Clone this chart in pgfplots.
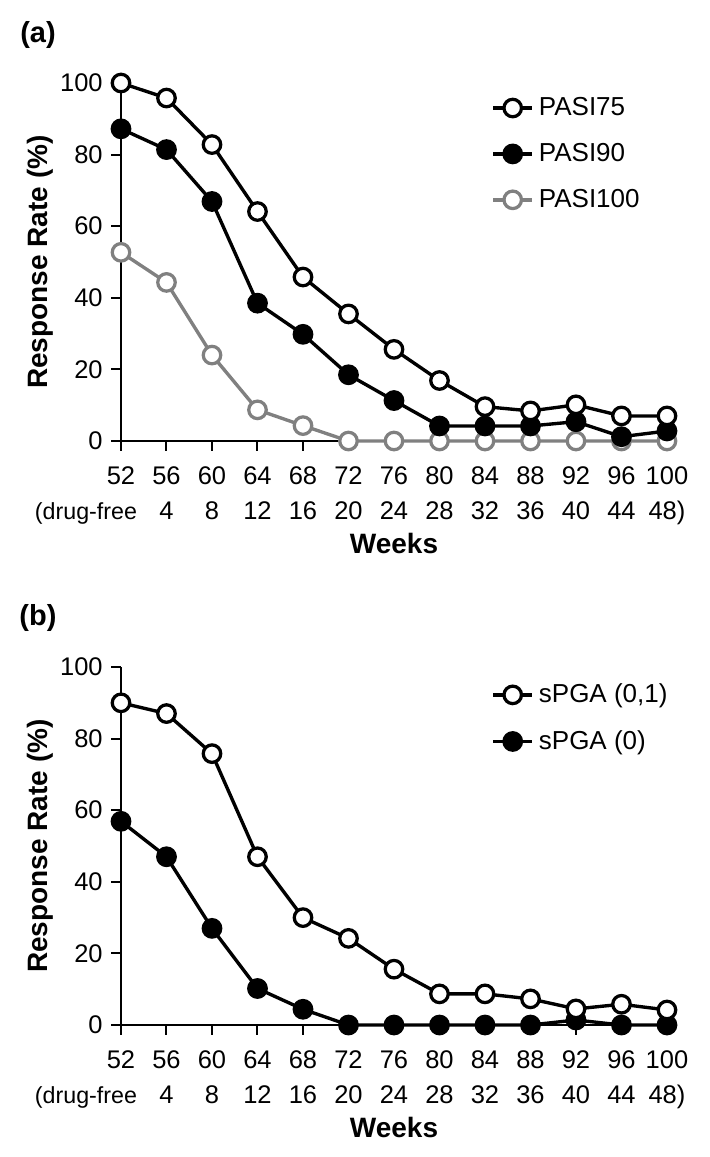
\documentclass[border=0pt]{standalone}
\usepackage{fontspec}
\setmainfont{Liberation Sans}
\usepackage{pgfplots}
\pgfplotsset{compat=1.18}
\definecolor{lgray}{HTML}{808080}
\pgfplotsset{
  myaxis/.style={
    scale only axis, width=218.4pt, height=143.2pt,
    xmin=52, xmax=100, ymin=0, ymax=100,
    enlargelimits=false, clip=false,
    axis x line*=bottom, axis y line*=left,
    axis line style={-, line width=0.8pt},
    every tick/.style={line width=0.8pt, black},
    tick align=outside, major tick length=3.8pt,
    xtick={52,56,...,100}, ytick={0,20,...,100},
    xticklabels={{52\\\makebox[0pt]{\kern12.8pt\makebox[0pt][r]{\fontsize{9.3}{14}\selectfont(drug-free}}},{56\\4},{60\\8},{64\\12},{68\\16},{72\\20},{76\\24},{80\\28},{84\\32},{88\\36},{92\\40},{96\\44},{100\\48)}},
    /pgf/number format/assume math mode=true,
    xticklabel style={align=center, font=\fontsize{10.2}{14}\selectfont, yshift=-2.8pt},
    yticklabel style={font=\fontsize{10.2}{12}\selectfont},
    xlabel={\textbf{Weeks}}, ylabel={\textbf{Response Rate (\%)}},
    every axis x label/.style={at={(axis description cs:0.5,-0.285)}, anchor=center, font=\fontsize{11.2}{14}\selectfont},
    every axis y label/.style={at={(axis description cs:-0.148,0.5)}, rotate=90, anchor=center, font=\fontsize{11.2}{14}\selectfont},
    legend style={draw=none, fill=none, font=\fontsize{10.4}{12}\selectfont, row sep=5.6pt, anchor=north west},
    legend cell align=left, reverse legend,
    legend image code/.code={\draw[mark repeat=2,mark phase=2,#1] plot coordinates {(0pt,0pt) (7.8pt,0pt) (15.6pt,0pt)};},
  },
  openblk/.style={black, line width=1.35pt, mark=*, mark size=3.5pt, mark options={fill=white, line width=1.3pt}},
  fillblk/.style={black, line width=1.35pt, mark=*, mark size=3.5pt, mark options={fill=black, line width=1.3pt}},
  opengray/.style={lgray, line width=1.35pt, mark=*, mark size=3.5pt, mark options={fill=white, line width=1.3pt}},
}
\begin{document}
\begin{tikzpicture}
\path (0,0) rectangle (283.6pt,-462.8pt);
\node[font=\fontsize{11.6}{14}\selectfont\bfseries] at (15.2pt,-14pt) {(a)};
\node[font=\fontsize{11.6}{14}\selectfont\bfseries] at (15.2pt,-247.2pt) {(b)};
\begin{axis}[myaxis, at={(48.4pt,-176.4pt)}, anchor=origin,
  legend style={at={(axis description cs:0.664,0.99)}}]
\addplot[opengray] coordinates {(52,52.7)(56,44.3)(60,24.0)(64,8.7)(68,4.3)(72,0)(76,0)(80,0)(84,0)(88,0)(92,0)(96,0)(100,0)};
\addplot[fillblk] coordinates {(52,87.2)(56,81.4)(60,66.9)(64,38.5)(68,29.8)(72,18.5)(76,11.3)(80,4.2)(84,4.2)(88,4.2)(92,5.4)(96,1.2)(100,2.8)};
\addplot[openblk] coordinates {(52,100)(56,95.8)(60,82.8)(64,64.1)(68,45.8)(72,35.5)(76,25.6)(80,16.9)(84,9.6)(88,8.4)(92,10.1)(96,7.0)(100,7.0)};
\legend{PASI100,PASI90,PASI75}
\end{axis}
\begin{axis}[myaxis, at={(48.4pt,-410pt)}, anchor=origin,
  legend style={at={(axis description cs:0.664,0.983)}}]
\addplot[fillblk] coordinates {(52,56.9)(56,47.0)(60,27.0)(64,10.2)(68,4.4)(72,0)(76,0)(80,0)(84,0)(88,0)(92,1.4)(96,0)(100,0)};
\addplot[openblk] coordinates {(52,90.0)(56,87.0)(60,75.8)(64,47.0)(68,30.0)(72,24.2)(76,15.6)(80,8.7)(84,8.7)(88,7.3)(92,4.5)(96,5.8)(100,4.2)};
\legend{{sPGA (0)},{sPGA (0,1)}}
\end{axis}
\end{tikzpicture}
\end{document}
